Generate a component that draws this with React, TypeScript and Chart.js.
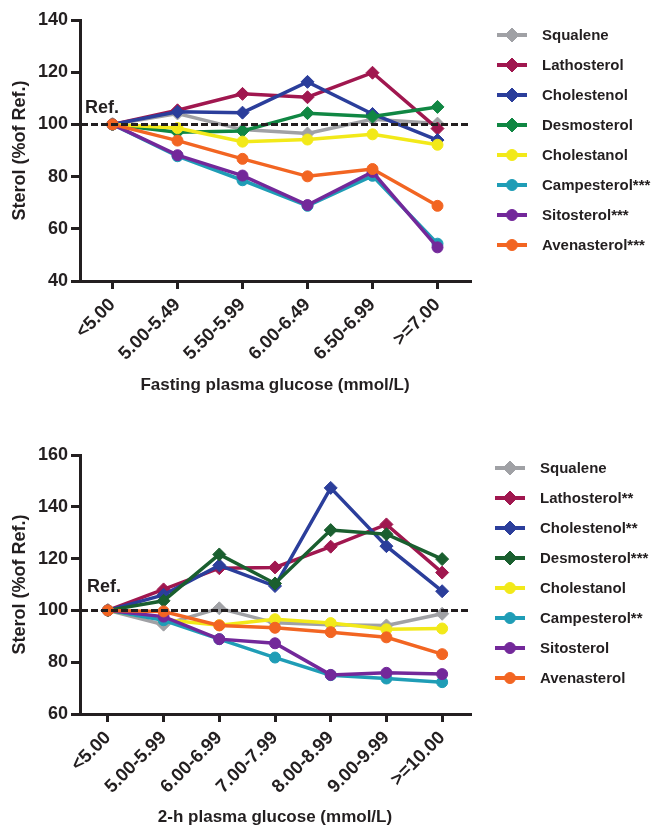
import React, { useEffect, useRef } from "react";
import { Chart, registerables } from "chart.js";
import { drawPoint } from "chart.js/helpers";

Chart.register(...registerables);

const FONT = '"Liberation Sans", Arial, Helvetica, sans-serif';
const INK = "#231F20";

// ---------- Panel A: fasting plasma glucose ----------
const fastingCategories = ["<5.00", "5.00-5.49", "5.50-5.99", "6.00-6.49", "6.50-6.99", ">=7.00"];
const fastingLabels = [
  "Squalene",
  "Lathosterol",
  "Cholestenol",
  "Desmosterol",
  "Cholestanol",
  "Campesterol***",
  "Sitosterol***",
  "Avenasterol***",
];
const fastingSqualene = [100, 104.2, 98, 96.5, 102, 100.3];
const fastingLathosterol = [100, 105.4, 111.7, 110.4, 119.8, 98.4];
const fastingCholestenol = [100, 104.8, 104.5, 116.3, 104, 94];
const fastingDesmosterol = [100, 97, 97.5, 104.3, 103, 106.7];
const fastingCholestanol = [100, 98.6, 93.4, 94.2, 96.2, 92.2];
const fastingCampesterol = [100, 87.8, 78.6, 68.8, 80.3, 54.3];
const fastingSitosterol = [100, 88.2, 80.4, 69.1, 81.8, 52.9];
const fastingAvenasterol = [100, 93.8, 86.8, 80.1, 82.9, 68.8];

// ---------- Panel B: 2-h plasma glucose ----------
const ohCategories = ["<5.00", "5.00-5.99", "6.00-6.99", "7.00-7.99", "8.00-8.99", "9.00-9.99", ">=10.00"];
const ohLabels = [
  "Squalene",
  "Lathosterol**",
  "Cholestenol**",
  "Desmosterol***",
  "Cholestanol",
  "Campesterol**",
  "Sitosterol",
  "Avenasterol",
];
const ohSqualene = [100, 94.5, 100.8, 95.2, 94.5, 94.2, 98.7];
const ohLathosterol = [100, 108.1, 116.3, 116.6, 124.6, 133.2, 114.6];
const ohCholestenol = [100, 106, 117.4, 109.4, 147.3, 124.8, 107.4];
const ohDesmosterol = [100, 103.7, 121.6, 110.4, 131, 129.4, 119.8];
const ohCholestanol = [100, 96.5, 94.3, 96.6, 95.1, 92.7, 93];
const ohCampesterol = [100, 96.2, 88.9, 81.8, 75, 73.7, 72.3];
const ohSitosterol = [100, 97.6, 88.9, 87.3, 75.1, 75.9, 75.4];
const ohAvenasterol = [100, 99.6, 94.2, 93.3, 91.6, 89.6, 83.1];

const refValue = 100;
const yTitle = "Sterol (%of Ref.)";

// ---------- styles ----------
const colorsA = ["#A0A1A5", "#A0174F", "#2B3E9B", "#108743", "#F2E919", "#1F9DB6", "#73289A", "#F26522"];
const colorsB = ["#A0A1A5", "#A0174F", "#2B3E9B", "#1A5F2F", "#F2E919", "#1F9DB6", "#73289A", "#F26522"];
const shapes = ["rectRot", "rectRot", "rectRot", "rectRot", "circle", "circle", "circle", "circle"];

const refLinePlugin = {
  id: "refLine",
  afterDatasetsDraw(chart: any, _args: any, opts: any) {
    const { ctx, chartArea } = chart;
    const y = chart.scales.y.getPixelForValue(opts.value);
    ctx.save();
    ctx.strokeStyle = INK;
    ctx.lineWidth = 3;
    ctx.setLineDash([7, 3]);
    ctx.beginPath();
    ctx.moveTo(chartArea.left + 1, y);
    ctx.lineTo(chartArea.right, y);
    ctx.stroke();
    ctx.setLineDash([]);
    ctx.fillStyle = INK;
    ctx.font = `bold 18px ${FONT}`;
    ctx.textAlign = "left";
    ctx.textBaseline = "alphabetic";
    ctx.fillText(opts.text, chartArea.left + opts.dx, y + opts.dy);
    ctx.restore();
  },
};

const sideLegendPlugin = {
  id: "sideLegend",
  afterDraw(chart: any, _args: any, opts: any) {
    const { ctx } = chart;
    chart.data.datasets.forEach((ds: any, i: number) => {
      const y = opts.y0 + i * opts.step;
      ctx.save();
      ctx.strokeStyle = ds.borderColor;
      ctx.lineWidth = 4;
      ctx.beginPath();
      ctx.moveTo(opts.x, y);
      ctx.lineTo(opts.x + 30, y);
      ctx.stroke();
      ctx.fillStyle = ds.borderColor;
      ctx.strokeStyle = ds.borderColor;
      ctx.lineWidth = 1;
      drawPoint(ctx, { pointStyle: ds.pointStyle, radius: ds.pointStyle === "circle" ? 5.5 : 7, rotation: 0, borderWidth: 1 }, opts.x + 15, y);
      ctx.fillStyle = INK;
      ctx.font = `bold 15px ${FONT}`;
      ctx.textAlign = "left";
      ctx.textBaseline = "middle";
      ctx.fillText(ds.label, opts.x + 45, y + 1);
      ctx.restore();
    });
  },
};

type PanelProps = {
  categories: string[];
  labels: string[];
  series: number[][];
  colors: string[];
  yMin: number;
  yMax: number;
  xTitle: string;
  height: number;
  top: number;
  padTop: number;
  xAxisHeight: number;
  xTitlePad: number;
  legendX: number;
  legendY0: number;
  refDy: number;
  refDx: number;
};

function Panel(p: PanelProps) {
  const ref = useRef<HTMLCanvasElement | null>(null);
  useEffect(() => {
    if (!ref.current) return;
    const datasets = p.series.map((values, i) => ({
      label: p.labels[i],
      data: values,
      borderColor: p.colors[i],
      backgroundColor: p.colors[i],
      pointBackgroundColor: p.colors[i],
      pointBorderColor: p.colors[i],
      pointStyle: shapes[i],
      pointRadius: shapes[i] === "circle" ? 5.5 : 6.5,
      pointBorderWidth: 1,
      borderWidth: 3.5,
      tension: 0,
      fill: false,
      order: p.series.length - i,
    }));
    const chart = new Chart(ref.current, {
      type: "line",
      data: { labels: p.categories, datasets },
      options: {
        responsive: false,
        maintainAspectRatio: false,
        animation: false,
        devicePixelRatio: 1,
        layout: { padding: { top: p.padTop, right: 192, bottom: 0, left: 0 } },
        plugins: {
          legend: { display: false },
          tooltip: { enabled: false },
          refLine: { value: refValue, text: "Ref.", dx: p.refDx, dy: p.refDy },
          sideLegend: { x: p.legendX, y0: p.legendY0, step: 30 },
        } as any,
        scales: {
          x: {
            type: "category",
            offset: true,
            grid: {
              display: true,
              offset: false,
              drawOnChartArea: false,
              drawTicks: true,
              tickLength: 8,
              lineWidth: 3,
              color: INK,
            },
            border: { display: true, width: 3, color: INK },
            ticks: {
              maxRotation: 45,
              minRotation: 45,
              autoSkip: false,
              padding: 5,
              color: INK,
              font: { family: FONT, size: 18.5, weight: "bold" },
            },
            title: {
              display: true,
              text: p.xTitle,
              color: INK,
              font: { family: FONT, size: 17, weight: "bold" },
              padding: { top: 0, bottom: p.xTitlePad },
            },
            afterFit: (s: any) => {
              s.height = p.xAxisHeight;
            },
          },
          y: {
            min: p.yMin,
            max: p.yMax,
            grid: {
              display: true,
              drawOnChartArea: false,
              drawTicks: true,
              tickLength: 9,
              lineWidth: 3,
              color: INK,
            },
            border: { display: true, width: 3, color: INK },
            ticks: {
              stepSize: 20,
              padding: 3,
              color: INK,
              font: { family: FONT, size: 18, weight: "bold" },
            },
            title: {
              display: true,
              text: yTitle,
              color: INK,
              font: { family: FONT, size: 18, weight: "bold" },
              padding: { top: 9, bottom: 0 },
            },
            afterFit: (s: any) => {
              s.width = 80;
            },
          },
        },
      },
      plugins: [refLinePlugin, sideLegendPlugin],
    } as any);
    return () => chart.destroy();
  }, []);
  return (
    <canvas
      ref={ref}
      width={662}
      height={p.height}
      style={{ position: "absolute", left: 0, top: p.top, width: 662, height: p.height, display: "block" }}
    />
  );
}

export default function App() {
  return (
    <div style={{ position: "absolute", left: 0, top: 0, width: 662, height: 828, background: "#fff" }}>
      <Panel
        categories={fastingCategories}
        labels={fastingLabels}
        series={[
          fastingSqualene,
          fastingLathosterol,
          fastingCholestenol,
          fastingDesmosterol,
          fastingCholestanol,
          fastingCampesterol,
          fastingSitosterol,
          fastingAvenasterol,
        ]}
        colors={colorsA}
        yMin={40}
        yMax={140}
        xTitle="Fasting plasma glucose (mmol/L)"
        height={415}
        top={0}
        padTop={20}
        xAxisHeight={134}
        xTitlePad={19}
        legendX={497}
        legendY0={35}
        refDx={5}
        refDy={-11.5}
      />
      <Panel
        categories={ohCategories}
        labels={ohLabels}
        series={[
          ohSqualene,
          ohLathosterol,
          ohCholestenol,
          ohDesmosterol,
          ohCholestanol,
          ohCampesterol,
          ohSitosterol,
          ohAvenasterol,
        ]}
        colors={colorsB}
        yMin={60}
        yMax={160}
        xTitle="2-h plasma glucose (mmol/L)"
        height={413}
        top={415}
        padTop={40}
        xAxisHeight={114}
        xTitlePad={0}
        legendX={495}
        legendY0={53}
        refDx={7}
        refDy={-18}
      />
    </div>
  );
}
